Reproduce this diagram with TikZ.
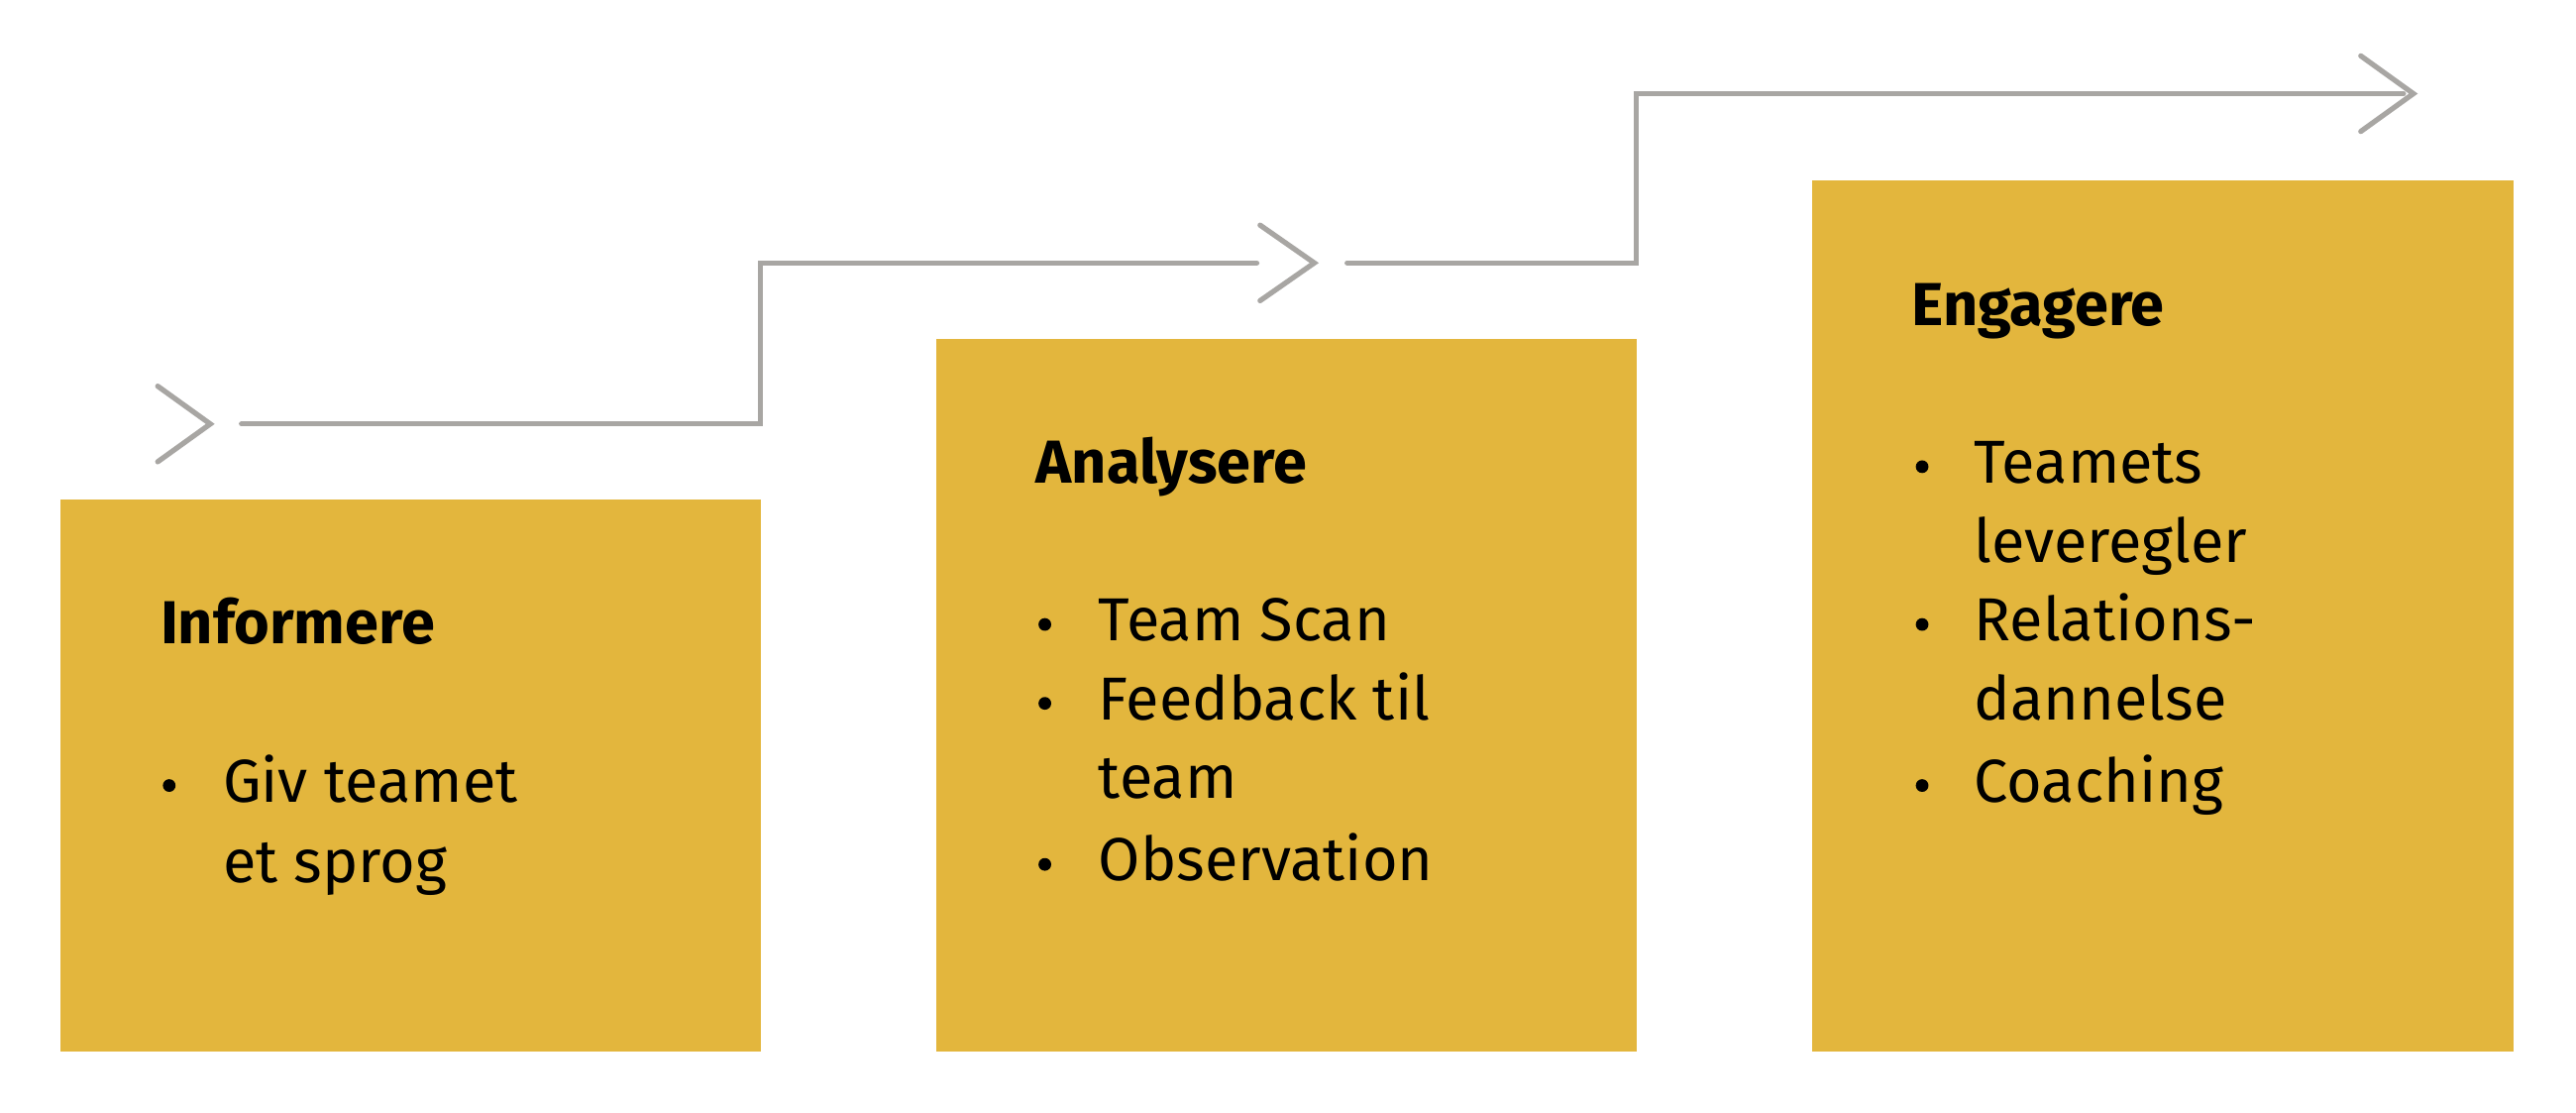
\documentclass[tikz,border=0pt]{standalone}
\usepackage{fontspec}
\setmainfont{Fira Sans}
\definecolor{boxc}{HTML}{E3B63D}
\definecolor{arr}{HTML}{A8A6A3}
\begin{document}
\begin{tikzpicture}[x=0.01cm,y=-0.01cm,
  box/.style={fill=boxc,draw=none},
  ln/.style={draw=arr,line width=0.9pt,line cap=round,line join=miter},
  hd/.style={anchor=base west,inner sep=0,font=\fontsize{10.5}{13}\selectfont\bfseries},
  tx/.style={anchor=base west,inner sep=0,font=\fontsize{10.5}{13}\selectfont},
  bl/.style={circle,fill=black,inner sep=0,minimum size=2.2pt}]
\useasboundingbox (0,0) rectangle (1568,677);
\fill[box] (37,304) rectangle (463,640);
\fill[box] (570,206) rectangle (996,640);
\fill[box] (1103,110) rectangle (1530,640);
% arrows
\coordinate (c1) at (128,258);
\coordinate (c2) at (800,160);
\coordinate (c3) at (1469,57);
\draw[ln] (96,235) -- (c1) -- (96,281);
\draw[ln] (767,137) -- (c2) -- (767,183);
\draw[ln] (1437,34) -- (c3) -- (1437,80);
\draw[ln] (147,258) -- (463,258) -- (463,160) -- (765,160);
\draw[ln] (820,160) -- (996,160) -- (996,57) -- (1463,57);
% box 1
\node[hd] (h1) at (97,392) {Informere};
\node[bl] (b11) at (103,478) {};
\node[tx] (t11) at (135,488) {Giv teamet};
\node[tx] (t12) at (135,537) {et sprog};
% box 2
\node[hd] (h2) at (630,294) {Analysere};
\node[bl] (b21) at (636,380) {};
\node[tx] (t21) at (668,390) {Team Scan};
\node[bl] (b22) at (636,428) {};
\node[tx] (t22) at (668,438) {Feedback til};
\node[tx] (t23) at (668,486) {team};
\node[bl] (b23) at (636,526) {};
\node[tx] (t24) at (668,536) {Observation};
% box 3
\node[hd] (h3) at (1163,198) {Engagere};
\node[bl] (b31) at (1170,284) {};
\node[tx] (t31) at (1201,294) {Teamets};
\node[tx] (t32) at (1201,342) {leveregler};
\node[bl] (b32) at (1170,380) {};
\node[tx] (t33) at (1201,390) {Relations-};
\node[tx] (t34) at (1201,438) {dannelse};
\node[bl] (b33) at (1170,478) {};
\node[tx] (t35) at (1201,488) {Coaching};
\end{tikzpicture}
\end{document}
